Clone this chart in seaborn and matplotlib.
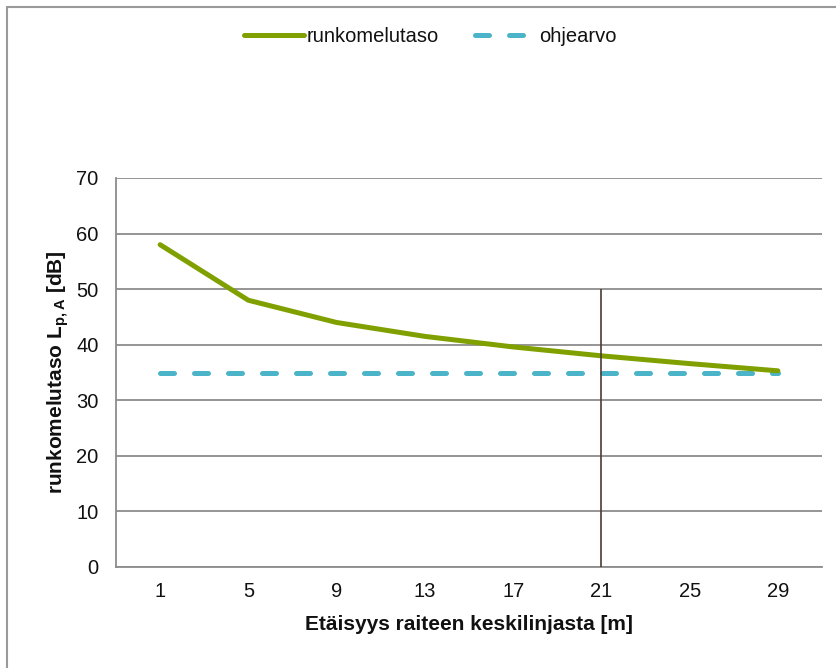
import pandas as pd
import matplotlib.pyplot as plt
import seaborn as sns
from matplotlib.lines import Line2D

sns.set_style("white")
plt.rcParams["font.family"] = ["Liberation Sans", "DejaVu Sans"]
plt.rcParams["mathtext.fontset"] = "custom"
plt.rcParams["mathtext.rm"] = "Liberation Sans"
plt.rcParams["mathtext.bf"] = "Liberation Sans:bold"

# data
distance = [1, 5, 9, 13, 17, 21, 25, 29]
runkomelutaso = [58.0, 48.0, 44.0, 41.5, 39.6, 38.0, 36.6, 35.3]
ohjearvo = [35, 35, 35, 35, 35, 35, 35, 35]
tick_labels = ["1", "5", "9", "13", "17", "21", "25", "29"]
marker_x = 21
marker_top = 50

GREEN = "#80A000"
CYAN = "#4BB4C8"
GRID = "#8c8c8c"
TEXT = "#111111"

df = pd.DataFrame({"x": distance, "runko": runkomelutaso, "ohje": ohjearvo})

fig = plt.figure(figsize=(8.36, 6.68), dpi=100)
ax = fig.add_axes([116 / 836, 1 - 567 / 668, (822 - 116) / 836, (567 - 178) / 668])

sns.lineplot(data=df, x="x", y="ohje", ax=ax, color=CYAN, lw=3.6,
             dashes=False, zorder=3)
ax.lines[-1].set_dashes((2.8, 4.0))
ax.lines[-1].set_dash_capstyle("round")
sns.lineplot(data=df, x="x", y="runko", ax=ax, color=GREEN, lw=3.6,
             zorder=4, solid_capstyle="round")
ax.vlines(marker_x, 0, marker_top, color="#4d3b36", lw=1.2, zorder=5)

ax.set_xlim(-1, 31)
ax.set_ylim(0, 70)
ax.set_yticks(range(0, 71, 10))
ax.set_xticks(range(-1, 32, 4))
ax.set_xticklabels([])
ax.set_xticks(distance, tick_labels, minor=True)
ax.yaxis.grid(True, color=GRID, lw=1.3)
ax.set_axisbelow(True)

for s in ["top", "right"]:
    ax.spines[s].set_visible(False)
for s in ["left", "bottom"]:
    ax.spines[s].set_color(GRID)
    ax.spines[s].set_linewidth(1.3)

ax.tick_params(axis="y", direction="out", length=4.5, width=1.2, color=GRID,
               labelsize=14.5, pad=8, labelcolor=TEXT)
ax.tick_params(axis="x", which="major", direction="out", length=5, width=1.2,
               color=GRID)
ax.tick_params(axis="x", which="minor", direction="in", length=4, width=1.2,
               color=GRID, labelsize=14.5, pad=11, labelcolor=TEXT)

ax.set_xlabel("Etäisyys raiteen keskilinjasta [m]", fontsize=15,
              fontweight="bold", labelpad=10, color=TEXT)
ax.set_ylabel(r"runkomelutaso L$_{\mathbf{p,A}}$ [dB]", fontsize=15,
              fontweight="bold", labelpad=4, color=TEXT)

handles = [
    Line2D([], [], color=GREEN, lw=3.6, solid_capstyle="round"),
    Line2D([], [], color=CYAN, lw=3.6, dashes=(2.8, 4.0), dash_capstyle="round"),
]
leg = fig.legend(handles, ["runkomelutaso", "ohjearvo"], loc="center",
                 bbox_to_anchor=(430 / 836, 1 - 37 / 668), ncol=2, frameon=False,
                 fontsize=14.5, handlelength=3.0, handletextpad=0.15,
                 columnspacing=1.8)
for t in leg.get_texts():
    t.set_color(TEXT)

# chart border (top and left edges visible)
fig.add_artist(Line2D([7 / 836, 1.0], [1 - 7 / 668, 1 - 7 / 668],
                      transform=fig.transFigure, color="#9a9a9a", lw=1.5))
fig.add_artist(Line2D([7 / 836, 7 / 836], [0.0, 1 - 7 / 668],
                      transform=fig.transFigure, color="#9a9a9a", lw=1.5))

fig.savefig("out.png", dpi=100)
